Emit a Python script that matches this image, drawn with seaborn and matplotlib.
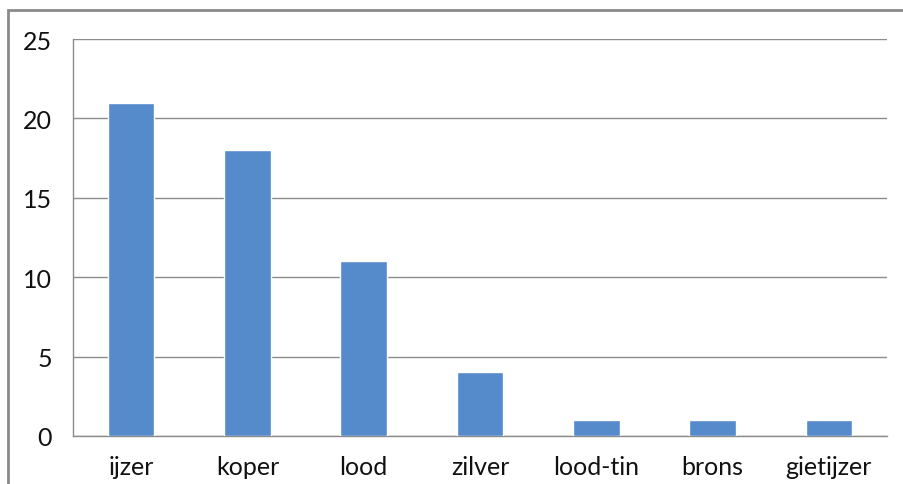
import matplotlib
matplotlib.use("Agg")
import matplotlib.pyplot as plt
import seaborn as sns
import numpy as np
import pandas as pd
from matplotlib.patches import Rectangle

categories = ["ijzer", "koper", "lood", "zilver", "lood-tin", "brons", "gietijzer"]
values = [21, 18, 11, 4, 1, 1, 1]
yticks = [0, 5, 10, 15, 20, 25]

sns.set_style("white")
plt.rcParams['font.family'] = ['Lato', 'DejaVu Sans']

df = pd.DataFrame({"cat": categories, "val": values})

fig = plt.figure(figsize=(9.04, 4.85), dpi=100)
ax = fig.add_axes([73/904, 1-437/485, (887-73)/904, (437-40)/485])

grid_c = "#8C8C8C"
sns.barplot(data=df, x="cat", y="val", color="#558ACB", width=0.4, saturation=1, ax=ax, zorder=3)
ax.set_xlim(-0.5, len(categories) - 0.5)
ax.set_ylim(0, 25)
ax.set_yticks(yticks)
ax.set_yticklabels([str(v) for v in yticks])
ax.yaxis.grid(True, color=grid_c, linewidth=1)
ax.set_axisbelow(True)
ax.set_xlabel("")
ax.set_ylabel("")

for s in ["top", "right"]:
    ax.spines[s].set_visible(False)
for s in ["left", "bottom"]:
    ax.spines[s].set_color(grid_c)
    ax.spines[s].set_linewidth(1)

ax.tick_params(axis="y", length=8, color=grid_c, width=1, labelsize=18, pad=7, labelcolor="#111111")
ax.tick_params(axis="x", which="major", length=0, labelsize=18, pad=14, labelcolor="#111111")
ax.set_xticks(np.arange(-0.5, len(categories)), minor=True)
ax.tick_params(axis="x", which="minor", length=9, color=grid_c, width=1)

# outer frame of the chart area
fig.add_artist(Rectangle((8/904, -0.1), 1.2, (1-11/485) + 0.1, transform=fig.transFigure,
                         fill=False, edgecolor="#8a8a8a", linewidth=2))

fig.savefig("out.png", dpi=100)
